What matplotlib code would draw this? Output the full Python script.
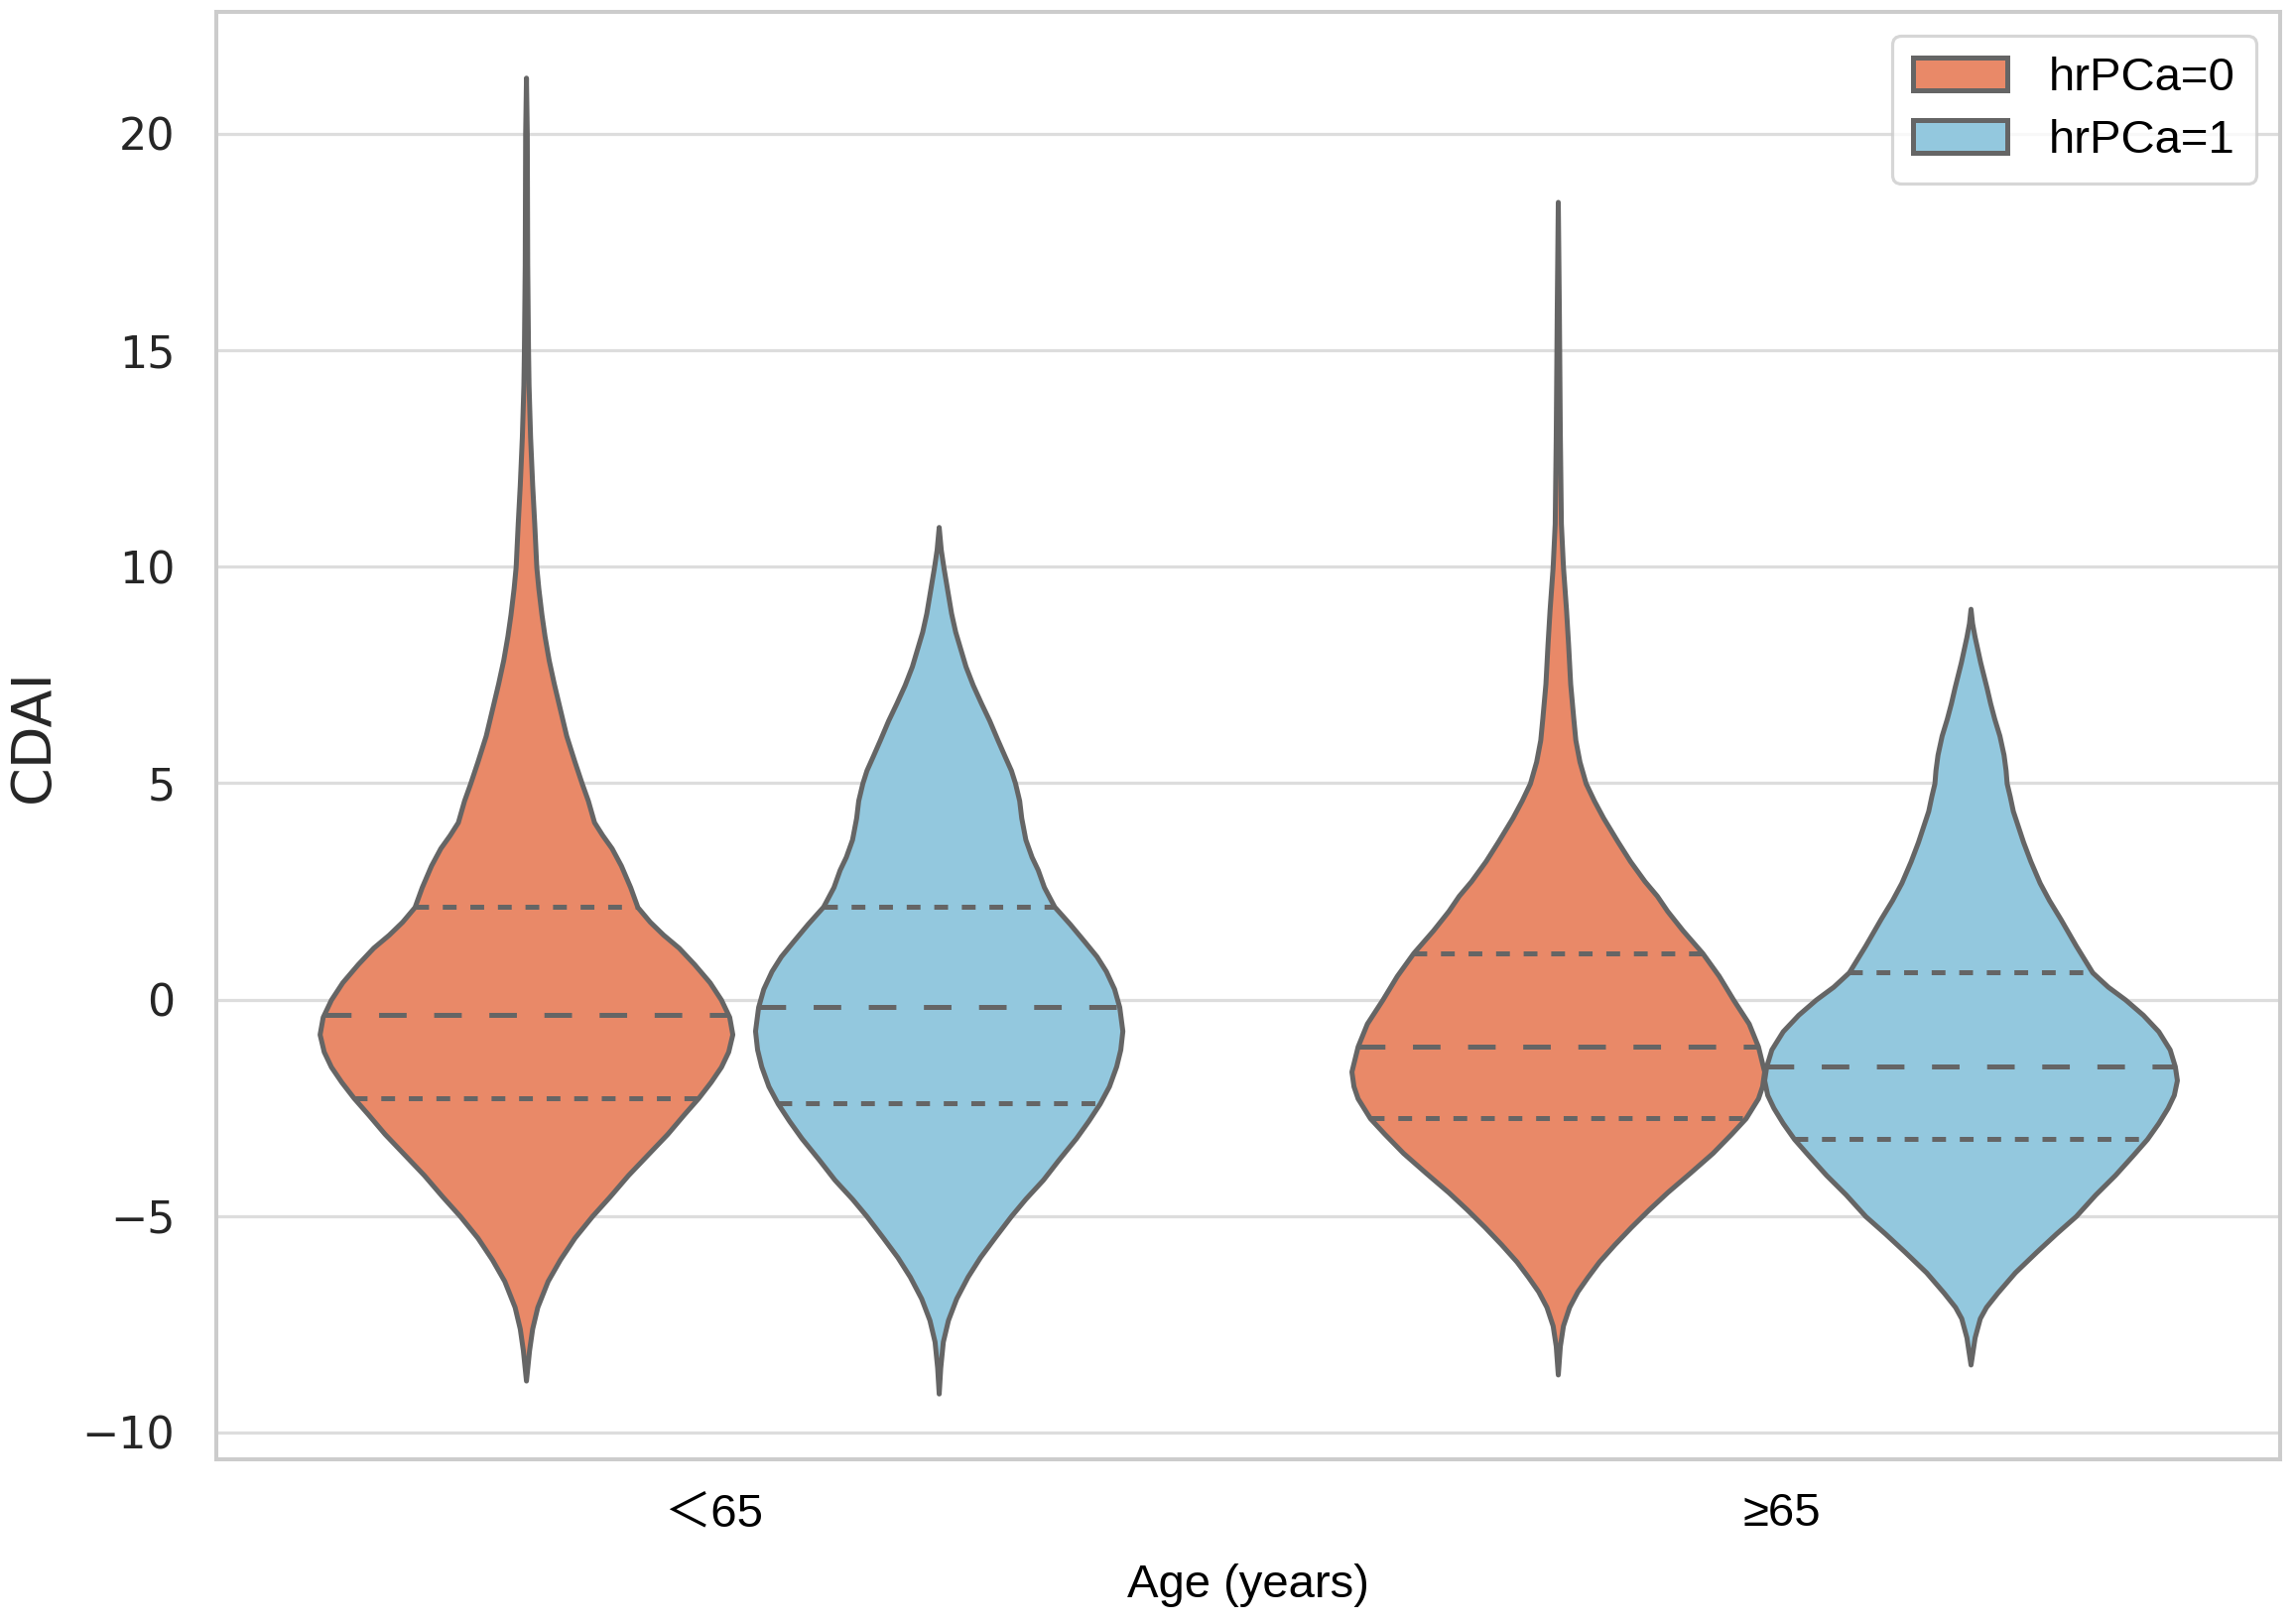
import numpy as np
import matplotlib
matplotlib.use("Agg")
import matplotlib.pyplot as plt
from matplotlib.patches import Patch
from matplotlib.transforms import ScaledTranslation

# categories / groups
groups = ["\uff1c65", "\u226565"]
hues = ["hrPCa=0", "hrPCa=1"]
colors = ["#E98968", "#93C8DE"]

# violin outlines: (CDAI value, half width in x units)
o1 = [(21.3, 0), (20, 0.0008), (17, 0.0012), (15, 0.002), (14.2, 0.0025), (13, 0.004),
      (11.9, 0.006), (11, 0.008), (10, 0.010), (9.5, 0.012), (8.9, 0.015), (8.4, 0.018),
      (7.85, 0.022), (7.3, 0.027), (6.8, 0.032), (6.1, 0.039), (5.5, 0.047), (5.0, 0.054),
      (4.6, 0.060), (4.1, 0.066), (3.8, 0.074), (3.5, 0.083), (3.1, 0.092), (2.6, 0.101),
      (2.14, 0.108), (1.8, 0.120), (1.5, 0.133), (1.2, 0.148), (0.82, 0.163), (0.4, 0.178),
      (0, 0.189), (-0.4, 0.197), (-0.8, 0.2), (-1.2, 0.196), (-1.55, 0.189), (-1.9, 0.179),
      (-2.27, 0.167), (-2.65, 0.153), (-3.1, 0.137), (-3.55, 0.119), (-4.05, 0.099),
      (-4.55, 0.081), (-5.0, 0.064), (-5.5, 0.047), (-6.0, 0.033), (-6.5, 0.021),
      (-7.1, 0.011), (-7.6, 0.006), (-8.1, 0.003), (-8.8, 0)]

b1 = [(10.92, 0), (10.4, 0.002), (10, 0.0045), (9.5, 0.008), (8.93, 0.012), (8.5, 0.016),
      (8.1, 0.021), (7.7, 0.026), (7.27, 0.033), (6.85, 0.041), (6.45, 0.049), (6.0, 0.057),
      (5.62, 0.064), (5.3, 0.070), (5.0, 0.074), (4.6, 0.078), (4.2, 0.080), (3.7, 0.084),
      (3.3, 0.090), (3.0, 0.096), (2.6, 0.102), (2.15, 0.112), (1.75, 0.127), (1.35, 0.141),
      (1.0, 0.153), (0.66, 0.162), (0.25, 0.170), (-0.17, 0.175), (-0.72, 0.178),
      (-1.15, 0.176), (-1.54, 0.172), (-2.0, 0.165), (-2.4, 0.156), (-2.8, 0.145),
      (-3.2, 0.133), (-3.7, 0.116), (-4.16, 0.101), (-4.6, 0.084), (-5.0, 0.070),
      (-5.5, 0.054), (-5.95, 0.040), (-6.4, 0.028), (-6.9, 0.017), (-7.4, 0.009),
      (-7.9, 0.004), (-8.5, 0.0015), (-9.1, 0)]

o2 = [(18.43, 0), (16, 0.001), (13, 0.002), (11, 0.003), (10, 0.005), (9, 0.008),
      (8.2, 0.010), (7.3, 0.012), (6.5, 0.015), (6.0, 0.017), (5.5, 0.021), (5.0, 0.027),
      (4.6, 0.035), (4.2, 0.044), (3.65, 0.058), (3.2, 0.070), (2.74, 0.084), (2.4, 0.096),
      (2.05, 0.106), (1.6, 0.121), (1.08, 0.140), (0.55, 0.156), (0, 0.170), (-0.55, 0.185),
      (-1.08, 0.194), (-1.66, 0.2), (-2.0, 0.198), (-2.28, 0.194), (-2.74, 0.182),
      (-3.1, 0.168), (-3.54, 0.150), (-4.0, 0.128), (-4.45, 0.106), (-4.85, 0.088),
      (-5.25, 0.071), (-5.65, 0.055), (-6.05, 0.040), (-6.4, 0.029), (-6.74, 0.019),
      (-7.1, 0.011), (-7.53, 0.005), (-8.0, 0.002), (-8.66, 0)]

b2 = [(9.03, 0), (8.7, 0.0015), (8.38, 0.004), (7.79, 0.0094), (7.2, 0.0156), (6.85, 0.019),
      (6.49, 0.023), (6.1, 0.028), (5.66, 0.032), (5.3, 0.034), (5.0, 0.035), (4.7, 0.038),
      (4.36, 0.041), (4.0, 0.046), (3.64, 0.051), (3.2, 0.058), (2.7, 0.067), (2.3, 0.076),
      (1.87, 0.087), (1.25, 0.102), (0.63, 0.118), (0.3, 0.133), (0, 0.150), (-0.35, 0.167),
      (-0.73, 0.182), (-1.15, 0.193), (-1.54, 0.198), (-1.86, 0.2), (-2.2, 0.197),
      (-2.5, 0.191), (-2.85, 0.182), (-3.22, 0.171), (-3.6, 0.157), (-4.05, 0.140),
      (-4.5, 0.121), (-5.0, 0.102), (-5.4, 0.083), (-5.82, 0.064), (-6.3, 0.043),
      (-6.77, 0.026), (-7.1, 0.015), (-7.36, 0.009), (-7.8, 0.004), (-8.43, 0)]

# quartiles per violin (o1, b1, o2, b2)
q1 = [-2.27, -2.4, -2.74, -3.22]
med = [-0.36, -0.17, -1.08, -1.54]
q3 = [2.14, 2.15, 1.08, 0.63]

narrow = ["Liberation Sans Narrow", "Arial Narrow", "Liberation Sans", "Noto Sans CJK SC"]
edge = "#656565"
lw = 3.6

plt.rcParams["lines.scale_dashes"] = False
fig = plt.figure(figsize=(23.13, 16.37), dpi=100)
ax = fig.add_axes([0.0943, 0.1014, 0.8992, 0.8913])

for i, prof in enumerate([o1, b1, o2, b2]):
    g, h = divmod(i, 2)
    pos = g + (-0.2 if h == 0 else 0.2)
    ys = np.array([p[0] for p in prof])
    ws = np.array([p[1] for p in prof])
    pc = ax.fill_betweenx(ys, pos - ws, pos + ws, facecolor=colors[h], edgecolor=edge,
                          linewidth=lw, zorder=2)
    pc.set_joinstyle("round")
    # inner quartile lines reach the outline
    ry, rw = ys[::-1], ws[::-1]
    for q, dash in [(q1[i], (10, 10)), (med[i], (20, 20)), (q3[i], (10, 10))]:
        w = np.interp(q, ry, rw)
        ax.plot([pos - w, pos + w], [q, q], color=edge, linewidth=lw,
                linestyle=(0, dash), dash_capstyle="butt", zorder=3)

ax.set_xlim(-0.5, 1.5)
ax.set_ylim(-10.62, 22.82)
ax.set_yticks([-10, -5, 0, 5, 10, 15, 20])
ax.set_xticks([0, 1])
ax.set_xticklabels(groups, family=narrow, fontsize=34, color="black")
ax.tick_params(axis="x", length=0, pad=24)
ax.tick_params(axis="y", length=0, pad=30, labelsize=32, labelcolor="#262626")
for lbl, dx in zip(ax.get_xticklabels(), [-19, 18]):
    lbl.set_transform(lbl.get_transform() + ScaledTranslation(dx / 100, 0, fig.dpi_scale_trans))

ax.grid(axis="y", color="#dddddd", linewidth=2.3, zorder=0)
ax.set_axisbelow(True)
for sp in ax.spines.values():
    sp.set_color("#cccccc")
    sp.set_linewidth(2.9)

ax.set_ylabel("CDAI", fontsize=40, color="#262626", labelpad=16)
ax.set_xlabel("Age (years)", family=narrow, fontsize=34, color="black", labelpad=20)

handles = [Patch(facecolor=c, edgecolor=edge, linewidth=lw, label=l) for c, l in zip(colors, hues)]
leg = ax.legend(handles=handles, loc="upper right", prop={"family": narrow, "size": 34},
                labelspacing=0.4, handlelength=2.0, handletextpad=0.9, frameon=True,
                fancybox=True, borderpad=0.45)
leg.get_frame().set_edgecolor("#cccccc")
leg.get_frame().set_linewidth(2.3)

fig.savefig("out.png", dpi=100)
